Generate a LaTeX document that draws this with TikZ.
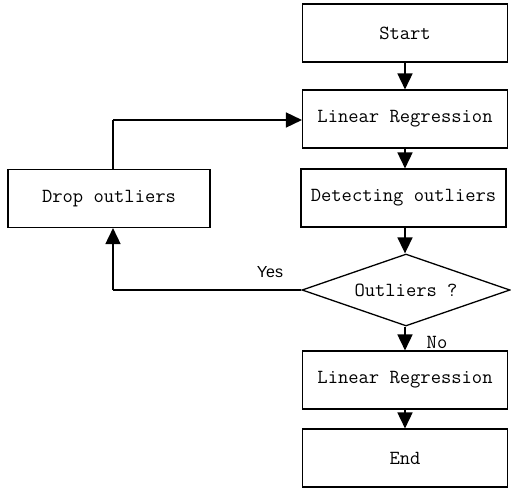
\documentclass[tikz,border=0pt]{standalone}
\usepackage{fontspec}
\newfontfamily\yesfont{Liberation Sans}
\usetikzlibrary{arrows.meta,shapes.geometric}
\begin{document}
\begin{tikzpicture}[x=1pt,y=-1pt,
  txt/.style={font=\ttfamily\fontsize{20}{20}\selectfont},
  box/.style={txt,draw,line width=1.1pt,minimum width=205pt,minimum height=58pt,inner sep=0pt},
  dec/.style={txt,draw,diamond,aspect=2.9,line width=1.3pt,minimum width=208pt,minimum height=72pt,inner sep=0pt},
  arr/.style={line width=1.6pt,-{Triangle[length=16pt,width=15pt]}},
  ln/.style={line width=1.3pt},
  lab/.style={inner sep=0pt}]
\useasboundingbox (0,0) rectangle (511,500);
\node[box] (start) at (405,33) {Start};
\node[box] (lr1) at (405,119) {Linear Regression};
\node[box] (det) at (403.5,198) {Detecting outliers};
\node[dec] (q) at (406,290) {Outliers ?};
\node[box] (lr2) at (405,380) {Linear Regression};
\node[box] (end) at (405,458) {End};
\node[box,minimum width=202pt] (drop) at (109,198.5) {Drop outliers};
\coordinate (c1) at (113,290);
\coordinate (c2) at (113,120);
\draw[arr] (start.south -| 405,0) -- (lr1.north -| 405,0);
\draw[arr] (lr1.south -| 405,0) -- (det.north -| 405,0);
\draw[arr] (det.south -| 405,0) -- (q.north -| 405,0);
\draw[arr] (q.south -| 405,0) -- (lr2.north -| 405,0);
\draw[arr] (lr2.south -| 405,0) -- (end.north -| 405,0);
\draw[ln] (q.west) -- (c1);
\draw[arr] (c1) -- (drop.south -| c1);
\draw[ln] (drop.north -| c2) -- (c2);
\draw[arr] (c2) -- (lr1.west |- c2);
\node[lab,font=\yesfont\fontsize{16}{16}\selectfont] (yes) at (270,272) {Yes};
\node[lab,txt] (no) at (437,342) {No};
\end{tikzpicture}
\end{document}
